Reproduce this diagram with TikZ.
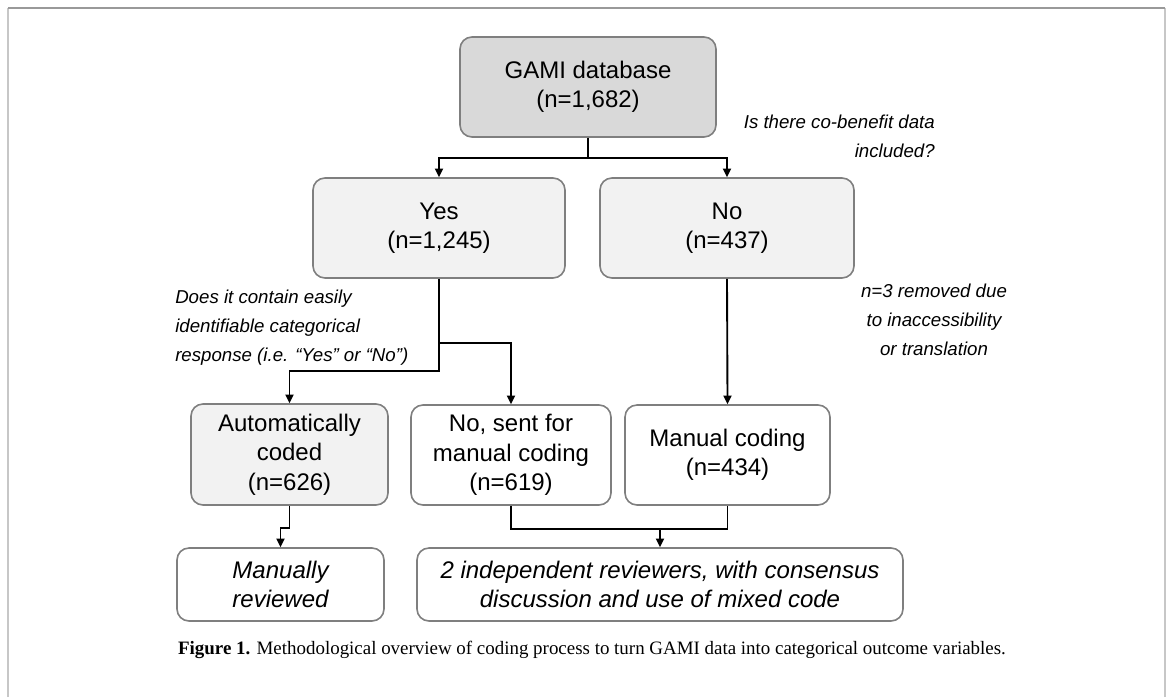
\documentclass[tikz,border=0pt]{standalone}
\usepackage{fontspec}
\setmainfont{Liberation Serif}
\setsansfont{Liberation Sans}
\usepackage{tikz}
\usetikzlibrary{shapes.geometric, arrows.meta}
\definecolor{darkfill}{HTML}{D9D9D9}
\definecolor{lightfill}{HTML}{F2F2F2}
\definecolor{boxline}{HTML}{7F7F7F}
\tikzstyle{box} = [rectangle, rounded corners=9pt, inner sep=0pt, align=center, draw=boxline, line width=1.2pt, font=\sffamily\fontsize{18}{22}\selectfont]
\tikzstyle{startstop} = [box, fill=darkfill]
\tikzstyle{process} = [box, fill=lightfill]
\tikzstyle{outcome} = [box, fill=white]
\tikzstyle{note} = [inner sep=0pt, font=\sffamily\itshape\fontsize{14}{21.75}\selectfont]
\tikzstyle{arrow} = [line width=1.4pt,-{Triangle[length=6.5pt,width=6pt]}]

\begin{document}
\begin{tikzpicture}[x=0.75pt, y=-0.75pt]
\useasboundingbox (0,0) rectangle (1169,697);
% page frame
\draw [color=black!22, line width=1.5pt] (8,697) -- (8,8);
\draw [color=black!22, line width=1.5pt] (1165,697) -- (1165,8);
\draw [color=black!40, line width=1.5pt] (8,8) -- (1165,8);

\node (gami) [startstop, minimum width=192pt, minimum height=75pt] at (588,87) {GAMI database\\(n=1,682)};
\node (yes) [process, minimum width=189pt, minimum height=75pt] at (439,228) {Yes\\(n=1,245)};
\node (no) [process, minimum width=190.5pt, minimum height=75pt] at (727,228) {No\\(n=437)};
\node (auto) [process, minimum width=147.75pt, minimum height=75.75pt] at (289.5,454.5) {Automatically\\coded\\(n=626)};
\node (nosent) [outcome, minimum width=150pt, minimum height=75pt] at (511,455) {No, sent for\\manual coding\\(n=619)};
\node (manual) [outcome, minimum width=153.75pt, minimum height=75pt] at (727.5,455) {Manual coding\\(n=434)};
\node (reviewed) [outcome, minimum width=155.25pt, minimum height=54.75pt, font=\sffamily\itshape\fontsize{18}{22}\selectfont] at (280.5,584.5) {Manually\\reviewed};
\node (reviewers) [outcome, minimum width=364.5pt, minimum height=54.75pt, font=\sffamily\itshape\fontsize{18}{22}\selectfont] at (660,584.5) {2 independent reviewers, with consensus\\discussion and use of mixed code};

\node (cobenefit) [note, anchor=east, align=right] at (935,136) {Is there co-benefit data\\included?};
\node (categorical) [note, anchor=west, align=left] at (175,328) {Does it contain easily\\identifiable categorical\\response (i.e. “Yes” or “No”)};
\node (removed) [note, align=center] at (934,320) {n=3 removed due\\to inaccessibility\\or translation};

\node (caption) [inner sep=0pt, font=\rmfamily\fontsize{14.2}{16}\selectfont] at (592,650) {\textbf{Figure 1.} Methodological overview of coding process to turn GAMI data into categorical outcome variables.};

\draw [arrow] (gami.south) -- ++(0,20) -| (yes.north);
\draw [arrow] (gami.south) -- ++(0,20) -| (no.north);
\draw [arrow] (yes.south) -- ++(0,92) -| (auto.north);
\draw [arrow] (yes.south) -- ++(0,64) -| (nosent.north);
\draw [arrow] (no.south) -- (manual.north);
\draw [arrow] (auto.south) -- ++(0,22) -| (reviewed.north);
\draw [line width=1.4pt] (nosent.south) -- ++(0,23) coordinate (join) -| (manual.south);
\draw [arrow] (join -| reviewers.north) -- (reviewers.north);
\end{tikzpicture}
\end{document}
